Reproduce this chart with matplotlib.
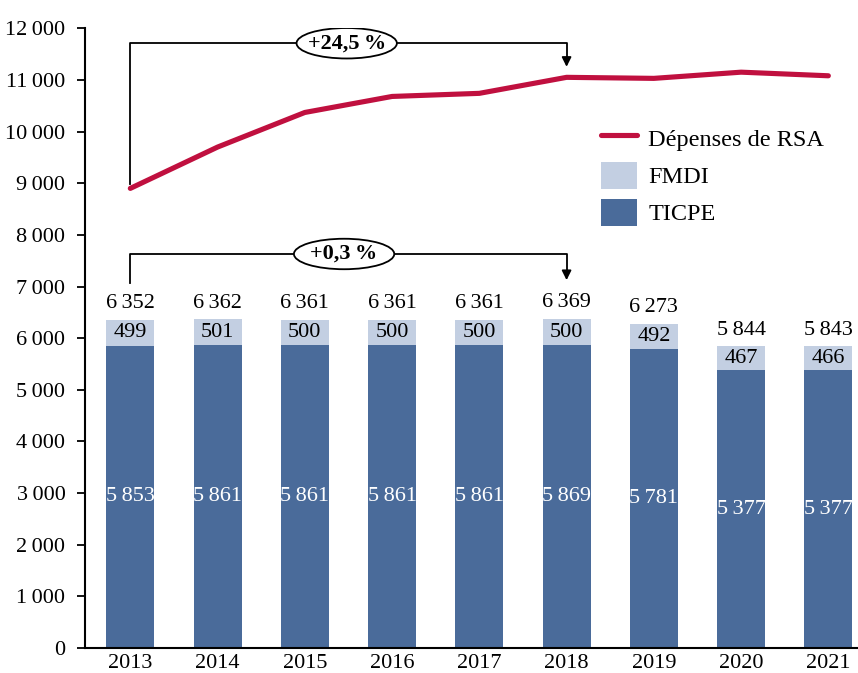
import matplotlib
matplotlib.use("Agg")
from matplotlib import pyplot as plt
from matplotlib.patches import Ellipse

years = ['2013', '2014', '2015', '2016', '2017', '2018', '2019', '2020', '2021']
ticpe = [5853, 5861, 5861, 5861, 5861, 5869, 5781, 5377, 5377]
fmdi = [499, 501, 500, 500, 500, 500, 492, 467, 466]
totals = [6352, 6362, 6361, 6361, 6361, 6369, 6273, 5844, 5843]
rsa = [8900, 9700, 10370, 10680, 10740, 11050, 11030, 11150, 11080]


def fmt(v):
    # thin space as thousands separator
    return '{:,}'.format(v).replace(',', '\u2009')


plt.rcParams['font.family'] = ['Liberation Serif', 'DejaVu Serif']

fig = plt.figure(figsize=(8.58, 6.73), dpi=100)
ax = fig.add_axes([0.099, 0.037, 0.9, 0.921])

x = list(range(len(years)))
ax.bar(x, ticpe, width=0.55, color='#4a6b9a', label='TICPE', zorder=2)
ax.bar(x, fmdi, width=0.55, bottom=ticpe, color='#c3cfe2', label='FMDI', zorder=2)
ax.plot(x, rsa, color='#c0103f', lw=3.7, solid_capstyle='round', label='Dépenses de RSA', zorder=3)

# Labels on bars
for i in x:
    ax.text(i, ticpe[i] / 2, fmt(ticpe[i]), ha='center', va='center', color='white', fontsize=16)
    ax.text(i, ticpe[i] + fmdi[i] / 2, fmt(fmdi[i]), ha='center', va='center', color='black', fontsize=16)
    ax.text(i, totals[i] + 130, fmt(totals[i]), ha='center', va='bottom', color='black', fontsize=16)


def bracket(x0, x1, ytop, yleft, yright, text, xtext):
    ax.plot([x0, x0, x1, x1], [yleft, ytop, ytop, yright + 250], color='black', lw=1.3, zorder=4)
    ax.annotate('', xy=(x1, yright), xytext=(x1, yright + 260),
                arrowprops=dict(arrowstyle='-|>', color='black', lw=1.3, mutation_scale=14), zorder=4)
    ax.add_patch(Ellipse((xtext, ytop), 1.15, 590, facecolor='white', edgecolor='black', lw=1.3, zorder=5))
    ax.text(xtext, ytop, text, ha='center', va='center', fontsize=16, fontweight='bold', zorder=6)


bracket(0, 5, 11710, 8990, 11200, '+24,5\u2009%', 2.48)
bracket(0, 5, 7630, 7070, 7070, '+0,3\u2009%', 2.45)

ax.set_xlim(-0.52, 8.33)
ax.set_ylim(0, 12000)
ax.set_yticks(range(0, 12001, 1000))
ax.set_yticklabels([fmt(v) for v in range(0, 12001, 1000)])
ax.set_xticks(x)
ax.set_xticklabels(years)
ax.tick_params(axis='y', labelsize=16, length=6, width=1.3, pad=8)
ax.tick_params(axis='x', labelsize=16, length=0, pad=4)
ax.spines['top'].set_visible(False)
ax.spines['right'].set_visible(False)
ax.spines['left'].set_linewidth(1.5)
ax.spines['bottom'].set_linewidth(1.5)

handles, labels = ax.get_legend_handles_labels()
order = [labels.index('Dépenses de RSA'), labels.index('FMDI'), labels.index('TICPE')]
ax.legend([handles[i] for i in order], [labels[i] for i in order],
          loc='upper left', bbox_to_anchor=(0.64, 0.88), frameon=False, fontsize=17.5,
          handlelength=1.5, handleheight=1.35, labelspacing=0.4, handletextpad=0.45)

plt.savefig('out.png')
